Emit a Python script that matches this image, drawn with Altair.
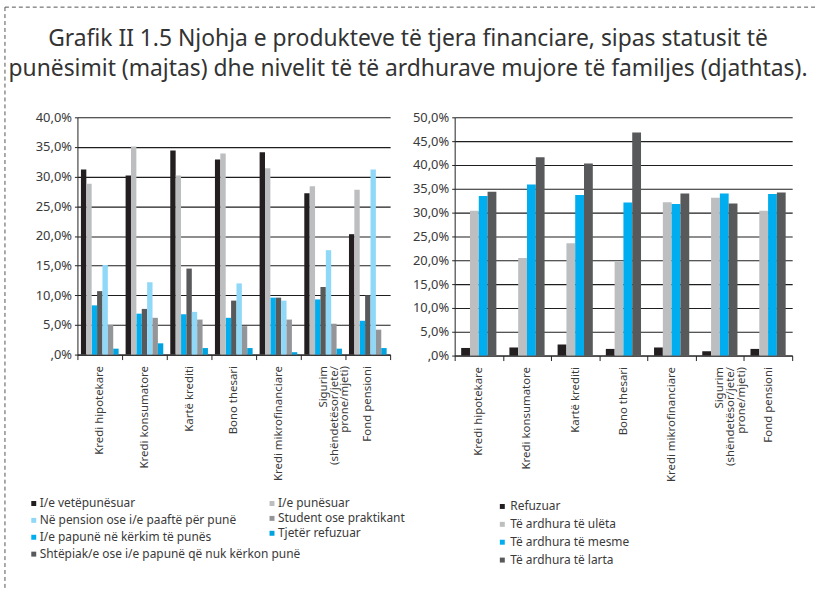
import altair as alt
import pandas as pd

# ---------------- data ----------------
categories = [
    "Kredi hipotekare",
    "Kredi konsumatore",
    "Kartë krediti",
    "Bono thesari",
    "Kredi mikrofinanciare",
    "Sigurim|(shëndetësor/jete/|prone/mjeti)",
    "Fond pensioni",
]

# left chart: employment status (bar order inside each group)
left_series = [
    "I/e vetëpunësuar",
    "I/e punësuar",
    "I/e papunë në kërkim të punës",
    "Shtëpiak/e ose i/e papunë që nuk kërkon punë",
    "Në pension ose i/e paaftë për punë",
    "Student ose praktikant",
    "Tjetër refuzuar",
]
left_colors = ["#231f20", "#bcbec0", "#00aeef", "#58595b", "#8fd8f8", "#939598", "#00a3e0"]
left_values = {
    "I/e vetëpunësuar": [31.2, 30.2, 34.4, 32.9, 34.1, 27.2, 20.3],
    "I/e punësuar": [28.8, 35.1, 30.2, 33.9, 31.4, 28.4, 27.8],
    "I/e papunë në kërkim të punës": [8.3, 6.9, 6.8, 6.2, 9.6, 9.3, 5.7],
    "Shtëpiak/e ose i/e papunë që nuk kërkon punë": [10.7, 7.7, 14.5, 9.1, 9.6, 11.4, 10.0],
    "Në pension ose i/e paaftë për punë": [15.1, 12.2, 7.2, 12.0, 9.1, 17.6, 31.2],
    "Student ose praktikant": [5.0, 6.2, 5.9, 4.8, 5.9, 5.2, 4.2],
    "Tjetër refuzuar": [1.0, 1.9, 1.1, 1.1, 0.4, 1.0, 1.1],
}
# legend columns as in the reference
left_legend_col1 = [
    "I/e vetëpunësuar",
    "Në pension ose i/e paaftë për punë",
    "I/e papunë në kërkim të punës",
    "Shtëpiak/e ose i/e papunë që nuk kërkon punë",
]
left_legend_col2 = ["I/e punësuar", "Student ose praktikant", "Tjetër refuzuar"]

# right chart: monthly family income level
right_series = ["Refuzuar", "Të ardhura të ulëta", "Të ardhura të mesme", "Të ardhura të larta"]
right_colors = ["#231f20", "#bcbec0", "#00aeef", "#58595b"]
right_values = {
    "Refuzuar": [1.6, 1.7, 2.3, 1.4, 1.7, 0.9, 1.4],
    "Të ardhura të ulëta": [30.4, 20.5, 23.6, 19.7, 32.2, 33.1, 30.4],
    "Të ardhura të mesme": [33.5, 35.9, 33.7, 32.1, 31.8, 34.0, 33.9],
    "Të ardhura të larta": [34.4, 41.6, 40.3, 46.8, 34.0, 31.9, 34.2],
}

left_ticks = [0, 5, 10, 15, 20, 25, 30, 35, 40]
right_ticks = [0, 5, 10, 15, 20, 25, 30, 35, 40, 45, 50]

title_lines = [
    "Grafik II 1.5 Njohja e produkteve të tjera financiare, sipas statusit të",
    "punësimit (majtas) dhe nivelit të të ardhurave mujore të familjes (djathtas).",
]

# ---------------- tables ----------------
def long_table(values, series):
    rows = []
    for s in series:
        for c, v in zip(categories, values[s]):
            rows.append({"cat": c, "series": s, "value": v})
    return pd.DataFrame(rows)

left_df = long_table(left_values, left_series)
right_df = long_table(right_values, right_series)

FONT = "Noto Sans"
TXT = "#3a3a3a"

pct_expr = "datum.value == 0 ? ',0%' : replace(format(datum.value, '.1f'), '.', ',') + '%'"

def x_enc():
    return alt.X(
        "cat:N",
        sort=categories,
        scale=alt.Scale(paddingInner=0, paddingOuter=0),
        axis=alt.Axis(
            title=None,
            labelAngle=-90,
            labelExpr="split(datum.label, '|')",
            labelFontSize=11.5,
            labelLineHeight=11,
            labelColor=TXT,
            labelPadding=6,
            tickBand="extent",
            tickSize=5,
            tickColor="#222",
            domainColor="#222",
            labelLimit=300,
        ),
    )

def y_enc(ticks):
    return alt.Y(
        "value:Q",
        scale=alt.Scale(domain=[ticks[0], ticks[-1]], nice=False),
        axis=alt.Axis(
            title=None,
            values=ticks,
            labelExpr=pct_expr,
            labelFontSize=13,
            labelColor=TXT,
            grid=True,
            gridColor="#1e1e1e",
            gridWidth=1.1,
            tickSize=3,
            tickColor="#222",
            domainColor="#222",
            labelPadding=3,
        ),
    )

def legend(x, y, row_pad, label_offset=3, size=30):
    return alt.Legend(
        title=None,
        orient="none",
        legendX=x,
        legendY=y,
        direction="vertical",
        symbolType="square",
        symbolSize=size,
        symbolStrokeWidth=0,
        labelFontSize=12,
        labelFont=FONT,
        labelColor=TXT,
        labelOffset=label_offset,
        rowPadding=row_pad,
        labelLimit=400,
    )

color_map_left = dict(zip(left_series, left_colors))

def left_bar_layer(members, leg):
    return (
        alt.Chart(left_df)
        .transform_filter(alt.FieldOneOfPredicate(field="series", oneOf=members))
        .mark_bar()
        .encode(
            x=x_enc(),
            xOffset=alt.XOffset(
                "series:N",
                scale=alt.Scale(domain=left_series, paddingInner=0, paddingOuter=0.65),
            ),
            y=y_enc(left_ticks),
            color=alt.Color(
                "series:N",
                scale=alt.Scale(domain=members, range=[color_map_left[m] for m in members]),
                legend=leg,
            ),
        )
    )

bars_a = left_bar_layer(left_legend_col1, legend(-50, 383, 5, label_offset=0, size=25))
bars_b = left_bar_layer(left_legend_col2, legend(190, 383, 3, label_offset=0, size=25))

one = pd.DataFrame({"k": [0]})
border_top = alt.Chart(one).mark_rule(color="#555", strokeDash=[4, 3], strokeWidth=1).encode(
    x=alt.value(-73), x2=alt.value(745), y=alt.value(-111)
)
border_left = alt.Chart(one).mark_rule(color="#555", strokeDash=[4, 3], strokeWidth=1).encode(
    x=alt.value(-73), y=alt.value(-111), y2=alt.value(480)
)
title_df = pd.DataFrame({"t": ["\n".join(title_lines)]})
title_text = alt.Chart(title_df).mark_text(
    font=FONT, fontSize=23, color="#333", align="center", baseline="alphabetic",
    lineBreak="\n", lineHeight=30,
).encode(text="t:N", x=alt.value(333), y=alt.value(-72))

left = (
    alt.layer(bars_a, bars_b, border_top, border_left, title_text)
    .resolve_scale(color="independent")
    .properties(width=315, height=239)
)

right = (
    alt.Chart(right_df)
    .mark_bar()
    .encode(
        x=x_enc(),
        xOffset=alt.XOffset(
            "series:N",
            scale=alt.Scale(domain=right_series, paddingInner=0, paddingOuter=0.74),
        ),
        y=y_enc(right_ticks),
        color=alt.Color(
            "series:N",
            scale=alt.Scale(domain=right_series, range=right_colors),
            legend=legend(42, 386, 6, label_offset=2, size=25),
        ),
    )
    .properties(width=340, height=240)
)

chart = (
    alt.hconcat(left, right, spacing=65, bounds="flush")
    .resolve_scale(color="independent", xOffset="independent")
    .properties(padding={"left": 4, "top": 4, "right": 0, "bottom": 0})
    .configure_view(stroke=None)
    .configure_axis(labelFont=FONT)
    .configure_legend(padding=0)
)

chart.save("out.html", embed_options={"renderer": "svg", "actions": False})
